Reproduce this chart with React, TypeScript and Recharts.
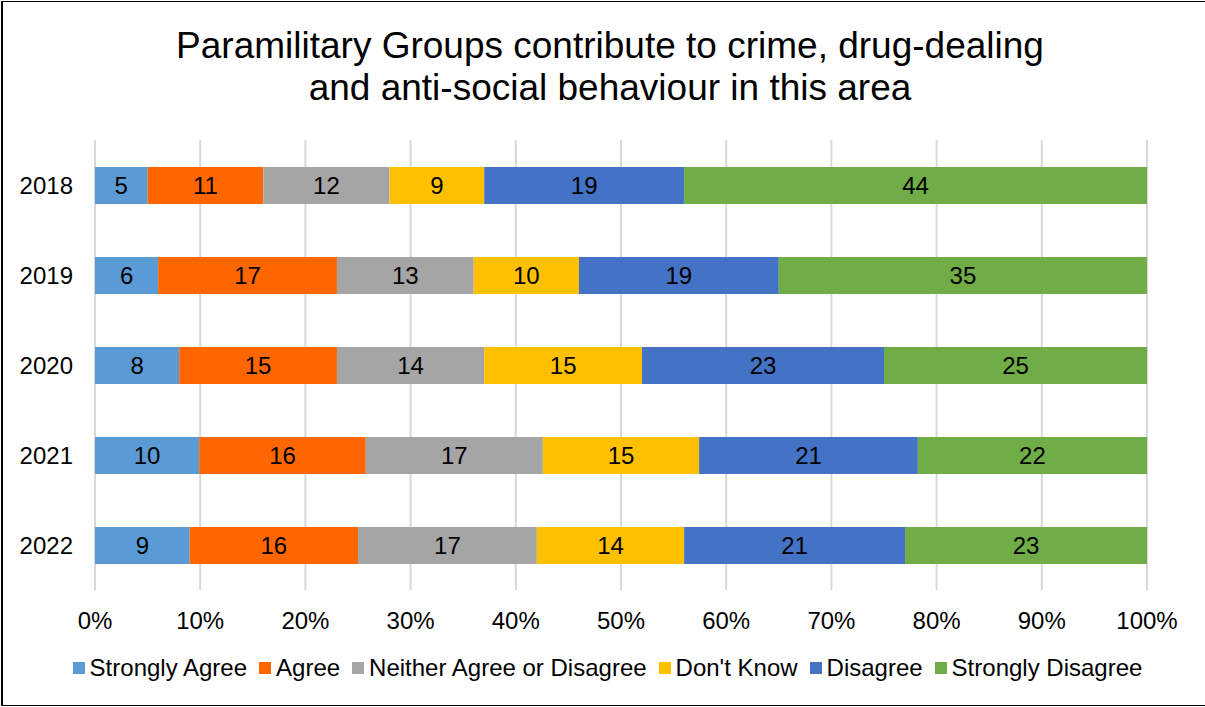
import React from "react";
import { BarChart, Bar, XAxis, YAxis, CartesianGrid, LabelList } from "recharts";

const years = ["2018", "2019", "2020", "2021", "2022"];
const stronglyAgree = [5, 6, 8, 10, 9];
const agree = [11, 17, 15, 16, 16];
const neither = [12, 13, 14, 17, 17];
const dontKnow = [9, 10, 15, 15, 14];
const disagree = [19, 19, 23, 21, 21];
const stronglyDisagree = [44, 35, 25, 22, 23];
const xTicks = [0, 0.1, 0.2, 0.3, 0.4, 0.5, 0.6, 0.7, 0.8, 0.9, 1];

const series = [
  { key: "sa", name: "Strongly Agree", color: "#5B9BD5", values: stronglyAgree },
  { key: "ag", name: "Agree", color: "#FF6600", values: agree },
  { key: "ne", name: "Neither Agree or Disagree", color: "#A5A5A5", values: neither },
  { key: "dk", name: "Don't Know", color: "#FFC000", values: dontKnow },
  { key: "di", name: "Disagree", color: "#4472C4", values: disagree },
  { key: "sd", name: "Strongly Disagree", color: "#70AD47", values: stronglyDisagree },
];

const data = years.map((y, i) => {
  const row: Record<string, string | number> = { year: y };
  series.forEach((s) => {
    row[s.key] = s.values[i];
  });
  return row;
});

const FONT = "'Liberation Sans', Arial, sans-serif";

export default function App() {
  return (
    <div
      style={{
        position: "absolute",
        left: 0,
        top: 0,
        width: 1205,
        height: 707,
        background: "#fff",
        fontFamily: FONT,
        overflow: "hidden",
      }}
    >
      <div
        style={{
          position: "absolute",
          left: 1,
          top: 1,
          width: 1300,
          height: 705,
          boxSizing: "border-box",
          borderLeft: "2px solid #000",
          borderTop: "1px solid #000",
          borderBottom: "1px solid #000",
        }}
      />
      <div
        style={{
          position: "absolute",
          left: 0,
          top: 25,
          width: 1220,
          textAlign: "center",
          fontSize: 37,
          lineHeight: "42px",
          color: "#000",
        }}
      >
        Paramilitary Groups contribute to crime, drug-dealing
        <br />
        and anti-social behaviour in this area
      </div>
      <div style={{ position: "absolute", left: 0, top: 0 }}>
        <BarChart
          width={1205}
          height={707}
          data={data}
          layout="vertical"
          stackOffset="expand"
          margin={{ top: 140, right: 58, bottom: 77, left: 0 }}
        >
          <CartesianGrid horizontal={false} stroke="#D9D9D9" strokeWidth={2} />
          <XAxis
            type="number"
            domain={[0, 1]}
            ticks={xTicks}
            tickFormatter={(v: number) => `${Math.round(v * 100)}%`}
            axisLine={false}
            tickLine={false}
            tickSize={0}
            tickMargin={22}
            height={40}
            interval={0}
            tick={{ fill: "#000", fontSize: 24, fontFamily: FONT }}
          />
          <YAxis
            type="category"
            dataKey="year"
            width={95}
            axisLine={false}
            tickLine={false}
            tickSize={0}
            tickMargin={22}
            tick={{ fill: "#000", fontSize: 24, fontFamily: FONT }}
          />
          {series.map((s) => (
            <Bar
              key={s.key}
              dataKey={s.key}
              name={s.name}
              stackId="a"
              fill={s.color}
              barSize={37}
              isAnimationActive={false}
            >
              <LabelList
                dataKey={s.key}
                position="center"
                fill="#000"
                fontSize={24}
                fontFamily={FONT}
              />
            </Bar>
          ))}
        </BarChart>
      </div>
      <div
        style={{
          position: "absolute",
          left: 0,
          top: 655,
          width: 1215,
          display: "flex",
          justifyContent: "center",
          alignItems: "center",
          fontSize: 24,
          lineHeight: "26px",
          color: "#000",
        }}
      >
        {series.map((s, i) => (
          <div
            key={s.key}
            style={{
              display: "flex",
              alignItems: "center",
              marginLeft: i === 0 ? 0 : 12,
            }}
          >
            <span
              style={{
                display: "inline-block",
                width: 12,
                height: 12,
                background: s.color,
                marginRight: 5,
              }}
            />
            <span>{s.name}</span>
          </div>
        ))}
      </div>
    </div>
  );
}
